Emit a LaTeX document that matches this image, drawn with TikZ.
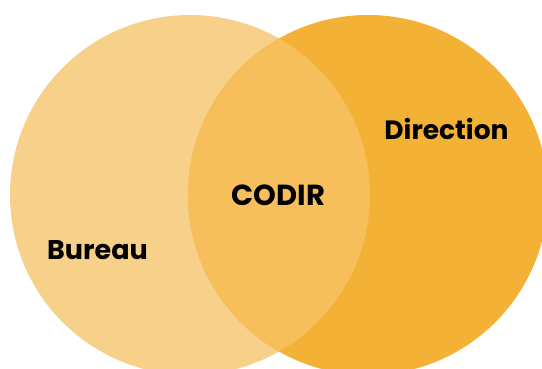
\documentclass[tikz,border=0pt]{standalone}
\usepackage{fontspec}
\setmainfont{Poppins}
\definecolor{leftc}{HTML}{F7D08A}
\definecolor{rightc}{HTML}{F3B136}
\definecolor{midc}{HTML}{F6BF5C}
\begin{document}
\begin{tikzpicture}[x=1pt,y=-1pt,
  lbl/.style={font=\bfseries, text=black, inner sep=0pt}]
\useasboundingbox (0,0) rectangle (542,368);
\clip (0,0) rectangle (542,368);
\fill[leftc] (190,195) circle[radius=180];
\fill[rightc] (368,195) circle[radius=180];
\begin{scope}
\clip (190,195) circle[radius=180];
\fill[midc] (368,195) circle[radius=180];
\end{scope}
\node[lbl, font=\fontsize{26.5}{30}\selectfont\bfseries] (dir) at (446.5,129) {Direction};
\node[lbl, font=\fontsize{29}{32}\selectfont\bfseries] (codir) at (278.5,195) {CODIR};
\node[lbl, font=\fontsize{27}{30}\selectfont\bfseries] (bur) at (97.5,250) {Bureau};
\end{tikzpicture}
\end{document}
